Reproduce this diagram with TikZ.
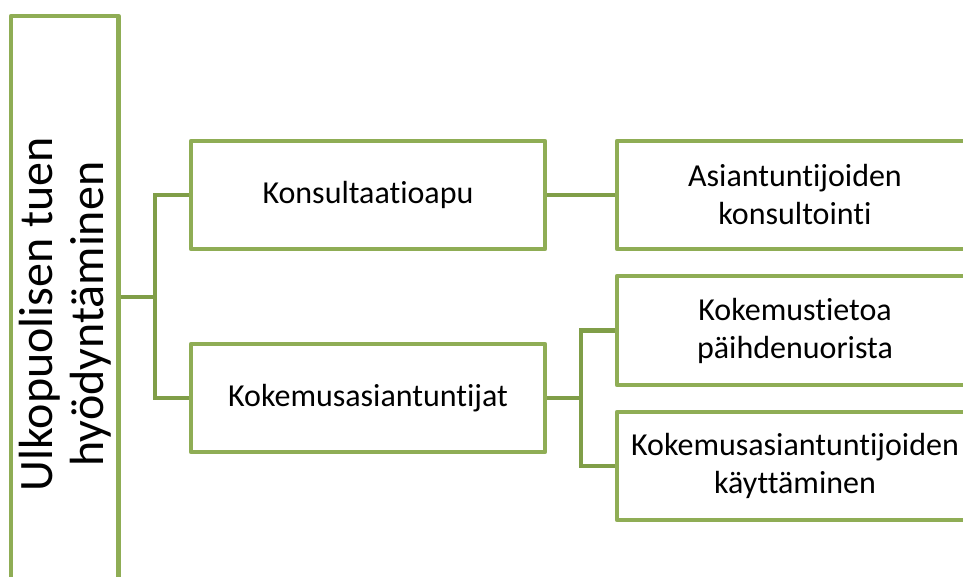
\documentclass[tikz,border=0pt]{standalone}
\usepackage{fontspec}
\setmainfont{Carlito}[RawFeature={-liga}]
\usepackage{xcolor}
\usetikzlibrary{shapes,calc}
\definecolor{boxGreen}{RGB}{143,173,85}
\definecolor{linkGreen}{RGB}{128,158,72}
\tikzstyle{tsText} = [ 
    text=black, 
    font=\fontsize{32}{38}\selectfont
]
\tikzstyle{tsBox} = [ 
    rectangle,
    tsText,
    align=center,
    draw=boxGreen,
    fill=white,
    line width=4.5pt,
    line join=round,
    minimum width=354pt,
    minimum height=108pt]
\tikzstyle{tsLink} = [ 
    draw=linkGreen,
    line width=4.5pt]

\begin{document}
\begin{tikzpicture}[x=1pt, y=-1pt]
        
        \useasboundingbox (0,0) rectangle (963,576);
        \clip (0,0) rectangle (963,576);
        
        % left column
        \node[  tsBox, 
                rotate=90,
                minimum width=596pt,
                minimum height=107.5pt,
                font=\fontsize{48}{51}\selectfont] (root) at (64.75,314) {Ulkopuolisen tuen\\hyödyntäminen};
                
        % middle column
        \node[tsBox] (consult) at (368,195) {Konsultaatioapu};
        \node[tsBox] (kokemus) at (368,398) {Kokemusasiantuntijat};
        
        % right column
        \node[tsBox, minimum width=356pt] (asiantuntijat) at (795,195) {Asiantuntijoiden\\konsultointi};
        \node[tsBox, minimum width=356pt, minimum height=109pt] (tieto) at (795,330.5) {Kokemustietoa\\päihdenuorista};
        \node[tsBox, minimum width=356pt] (kaytto) at (795,466) {Kokemusasiantuntijoiden\\käyttäminen};
        
        \coordinate (fork1) at (155,297);
        \coordinate (fork2) at (581,398);
        
     	\draw[tsLink] (fork1 -| root.south) -- (fork1);
     	\draw[tsLink] (fork1) |- (consult.west);
     	\draw[tsLink] (fork1) |- (kokemus.west);
     	\draw[tsLink] (consult.east) -- (asiantuntijat.west);
     	\draw[tsLink] (kokemus.east) -- (fork2);
     	\draw[tsLink] (fork2) |- (tieto.west);
     	\draw[tsLink] (fork2) |- (kaytto.west);
   	 	
       \end{tikzpicture}
\end{document}
